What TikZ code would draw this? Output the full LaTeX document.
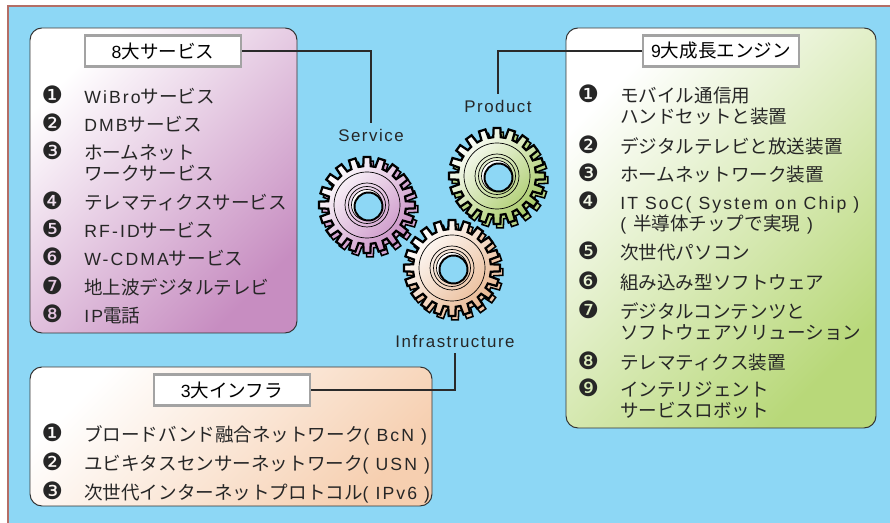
\documentclass[tikz,border=0pt]{standalone}
\usepackage{fontspec}
\usepackage{xcolor}
\usepackage{tikz}
\usetikzlibrary{positioning}
\setmainfont{Noto Sans CJK JP}
\newfontfamily\latinfont{Liberation Sans}[Scale=0.95, LetterSpace=12]
\newfontfamily\labelfont{Liberation Sans}[LetterSpace=9]
\newfontfamily\dingfont{DejaVu Sans}
\definecolor{skyback}{HTML}{8DD7F5}
\definecolor{framered}{HTML}{B36E66}
\definecolor{boxline}{HTML}{333333}
\definecolor{headgray}{HTML}{A3A3A3}
\definecolor{linkgray}{HTML}{2A2A2A}
\definecolor{svcpink}{HTML}{C78DC1}
\definecolor{prodgreen}{HTML}{B8D879}
\definecolor{infrapeach}{HTML}{F6CFB0}
\definecolor{svcgear}{HTML}{C98FC5}
\definecolor{prodgear}{HTML}{A8CA66}
\definecolor{infragear}{HTML}{E9B892}

\newcommand{\lat}[1]{{\latinfont #1}}
% fixed line pitch, the CJK font is very tall
\newcommand{\itemfont}{\fontsize{13.2pt}{15pt}\selectfont\lineskiplimit=-20pt\relax}
\newcommand{\itemno}[1]{\llap{\makebox[1.6cm]{\dingfont\fontsize{17pt}{17pt}\selectfont #1}}}

% one cog: side of the teeth first, then the shaded face and the hub
\tikzset{
    pics/cog/.style={code={
        \filldraw[fill=#1!80!white, draw=black, line width=1.1pt, shift={(3,4)}]
            (-5.5:39) \foreach \a in {0,18,...,342} { -- (\a-5.5:39) -- (\a-4:48) -- (\a+4:48) -- (\a+5.5:39) } -- cycle;
        \draw[line width=1.6pt, top color=white, bottom color=#1, shading angle=45]
            (-5.5:39) \foreach \a in {0,18,...,342} { -- (\a-5.5:39) -- (\a-4:48) -- (\a+4:48) -- (\a+5.5:39) } -- cycle;
        \draw[line width=0.5pt] (0,0) circle[radius=33];
        \draw[line width=0.5pt] (0,0) circle[radius=22] (0,0) circle[radius=18.5];
        \filldraw[fill=white, line width=0.5pt] (0,0) circle[radius=15.5];
        \filldraw[fill=skyback, line width=1.4pt] (1.5,1.5) circle[radius=14];
    }}
}

\begin{document}
\begin{tikzpicture}[
        x=0.025cm, y=-0.025cm,
        panel/.style={rounded corners=0.3cm, draw=boxline, line width=0.7pt, top color=white, bottom color=#1, shading angle=45},
        headbox/.style={draw=headgray, line width=2pt, fill=white, minimum width=3.9cm, minimum height=0.76cm, inner sep=0pt, font=\itemfont},
        item/.style={anchor=base west, inner sep=0pt, align=left, font=\itemfont, text=black!85},
        gearlabel/.style={font=\labelfont\fontsize{12pt}{14pt}\selectfont, inner sep=4pt, text=black!85},
        link/.style={line width=0.9pt, draw=linkgray}
    ]
    \useasboundingbox (0,0) rectangle (890,523);
    \fill[skyback] (8,6) rectangle (890,523);
    \draw[framered, line width=1.2pt] (8,523) -- (8,6) -- (890,6);

    % three panels
    \draw[panel=svcpink] (30,28) rectangle (297,333);
    \draw[panel=prodgreen] (566,28) rectangle (876,428);
    \draw[panel=infrapeach] (30,367) rectangle (432,506);

    \node[headbox] (svchead) at (163,51) {\lat{8}大サービス};
    \node[headbox] (prodhead) at (721,51) {\lat{9}大成長エンジン};
    \node[headbox] (infrahead) at (232,390) {\lat{3}大インフラ};

    % services (two-line items sit on their last baseline)
    \node[item] (svc1) at (84,104) {\itemno{❶}\lat{WiBro}サービス};
    \node[item] (svc2) at (84,132) {\itemno{❷}\lat{DMB}サービス};
    \node[item] (svc3) at (84,181) {\itemno{❸}ホームネット\\ワークサービス};
    \node[item] (svc4) at (84,210) {\itemno{❹}テレマティクスサービス};
    \node[item] (svc5) at (84,238) {\itemno{❺}\lat{RF-ID}サービス};
    \node[item] (svc6) at (84,266) {\itemno{❻}\lat{W-CDMA}サービス};
    \node[item] (svc7) at (84,295) {\itemno{❼}地上波デジタルテレビ};
    \node[item] (svc8) at (84,323) {\itemno{❽}\lat{IP}電話};

    % products
    \node[item] (prod1) at (620,124) {\itemno{❶}モバイル通信用\\ハンドセットと装置};
    \node[item] (prod2) at (620,154) {\itemno{❷}デジタルテレビと放送装置};
    \node[item] (prod3) at (620,182) {\itemno{❸}ホームネットワーク装置};
    \node[item] (prod4) at (620,231) {\itemno{❹}\lat{IT SoC( System on Chip )}\\\lat{( }半導体チップで実現\lat{ )}};
    \node[item] (prod5) at (620,260) {\itemno{❺}次世代パソコン};
    \node[item] (prod6) at (620,290) {\itemno{❻}組み込み型ソフトウェア};
    \node[item] (prod7) at (620,340) {\itemno{❼}デジタルコンテンツと\\ソフトウェアソリューション};
    \node[item] (prod8) at (620,370) {\itemno{❽}テレマティクス装置};
    \node[item] (prod9) at (620,418) {\itemno{❾}インテリジェント\\サービスロボット};

    % infrastructure
    \node[item] (infra1) at (84,442) {\itemno{❶}ブロードバンド融合ネットワーク\lat{( BcN )}};
    \node[item] (infra2) at (84,471) {\itemno{❷}ユビキタスセンサーネットワーク\lat{( USN )}};
    \node[item] (infra3) at (84,500) {\itemno{❸}次世代インターネットプロトコル\lat{( IPv6 )}};

    % gears
    \pic at (367,205) {cog=svcgear};
    \pic at (497,176) {cog=prodgear};
    \pic at (452,268) {cog=infragear};

    \node[gearlabel] (svclabel) at (371,135) {Service};
    \node[gearlabel] (prodlabel) at (498,106) {Product};
    \node[gearlabel] (infralabel) at (455,341) {Infrastructure};

    \draw[link] (svchead.east) -| (svclabel.north);
    \draw[link] (prodhead.west) -| (prodlabel.north);
    \draw[link] (infrahead.east) -| (infralabel.south);
\end{tikzpicture}
\end{document}
